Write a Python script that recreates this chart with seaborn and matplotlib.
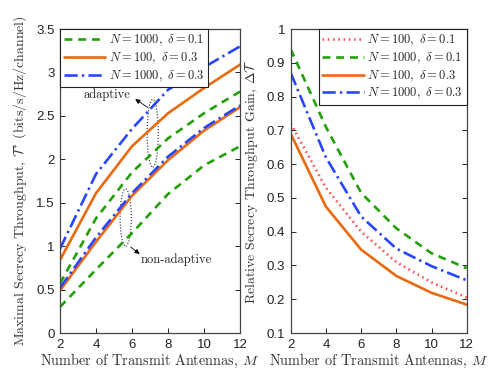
import numpy as np
import pandas as pd
import matplotlib
matplotlib.use("Agg")
import matplotlib.pyplot as plt
from matplotlib.patches import Ellipse
import seaborn as sns

# ---- data ----
M = [2, 4, 6, 8, 10, 12]

# left panel: maximal secrecy throughput
ad_n1000_d01 = [0.57, 1.32, 1.85, 2.24, 2.53, 2.78]
ad_n100_d03 = [0.84, 1.61, 2.15, 2.53, 2.82, 3.09]
ad_n1000_d03 = [0.97, 1.83, 2.35, 2.80, 3.06, 3.30]
na_n1000_d01 = [0.30, 0.73, 1.15, 1.60, 1.93, 2.15]
na_n100_d03 = [0.49, 1.05, 1.58, 1.99, 2.33, 2.60]
na_n1000_d03 = [0.52, 1.10, 1.61, 2.03, 2.36, 2.62]

# right panel: relative secrecy throughput gain
g_n100_d01 = [0.72, 0.53, 0.40, 0.31, 0.25, 0.205]
g_n1000_d01 = [0.94, 0.71, 0.515, 0.41, 0.336, 0.292]
g_n100_d03 = [0.69, 0.474, 0.347, 0.269, 0.219, 0.184]
g_n1000_d03 = [0.87, 0.62, 0.445, 0.35, 0.298, 0.256]

lbl_n100_d01 = r'$N=100,\ \delta=0.1$'
lbl_n1000_d01 = r'$N=1000,\ \delta=0.1$'
lbl_n100_d03 = r'$N=100,\ \delta=0.3$'
lbl_n1000_d03 = r'$N=1000,\ \delta=0.3$'

left_yticks = [0, 0.5, 1, 1.5, 2, 2.5, 3, 3.5]
left_yticklabels = ["0", "0.5", "1", "1.5", "2", "2.5", "3", "3.5"]
right_yticks = [0.1, 0.2, 0.3, 0.4, 0.5, 0.6, 0.7, 0.8, 0.9, 1.0]
right_yticklabels = ["0.1", "0.2", "0.3", "0.4", "0.5", "0.6", "0.7", "0.8", "0.9", "1"]
xticks = [2, 4, 6, 8, 10, 12]

# ---- style ----
sns.set_style("ticks")
plt.rcParams["font.family"] = ["Liberation Sans", "DejaVu Sans"]
plt.rcParams["mathtext.fontset"] = "cm"
plt.rcParams["axes.unicode_minus"] = False

GREEN = "#22a00a"
ORANGE = "#ea6a10"
BLUE = "#2846ff"
RED = "#ff4a4a"
LW = 1.9

fig = plt.figure(figsize=(4.98, 3.75), dpi=100)
axL = fig.add_axes([60 / 498, 42 / 375, 180 / 498, 304 / 375])
axR = fig.add_axes([290.7 / 498, 42 / 375, 176 / 498, 304 / 375])


def draw(ax, y, color, ls, label=None):
    df = pd.DataFrame({"M": M, "v": y})
    sns.lineplot(data=df, x="M", y="v", ax=ax, color=color, linestyle=ls,
                 linewidth=LW, label=label, legend=False)


dash = (0, (3.0, 2.2))
dashdot = (0, (5.0, 1.6, 0.9, 1.6))
dotted = (0, (0.6, 1.4))

# left panel
draw(axL, ad_n1000_d01, GREEN, dash, lbl_n1000_d01)
draw(axL, ad_n100_d03, ORANGE, "-", lbl_n100_d03)
draw(axL, ad_n1000_d03, BLUE, dashdot, lbl_n1000_d03)
draw(axL, na_n1000_d01, GREEN, dash)
draw(axL, na_n100_d03, ORANGE, "-")
draw(axL, na_n1000_d03, BLUE, dashdot)

# right panel
draw(axR, g_n100_d01, RED, dotted, lbl_n100_d01)
draw(axR, g_n1000_d01, GREEN, dash, lbl_n1000_d01)
draw(axR, g_n100_d03, ORANGE, "-", lbl_n100_d03)
draw(axR, g_n1000_d03, BLUE, dashdot, lbl_n1000_d03)

cmr = "cmr10"
for ax in (axL, axR):
    ax.set_xlim(2, 12)
    ax.set_xticks(xticks)
    ax.set_xticklabels([str(t) for t in xticks])
    ax.tick_params(direction="in", top=True, right=True, labelsize=9.5,
                   length=3.5, width=0.7, colors="#222222", pad=4)
    for s in ax.spines.values():
        s.set_linewidth(0.9)
        s.set_color("#444444")
    ax.set_xlabel(r"Number of Transmit Antennas, $M$", fontsize=10.3,
                  family=cmr, labelpad=1, color="#333333")

axL.set_ylim(0, 3.5)
axL.set_yticks(left_yticks)
axL.set_yticklabels(left_yticklabels)
axL.set_ylabel(r"Maximal Secrecy Throughput, $\mathcal{T}^{*}$ (bits/s/Hz/channel)",
               fontsize=10, family=cmr, labelpad=5, color="#333333")

axR.set_ylim(0.1, 1.0)
axR.set_yticks(right_yticks)
axR.set_yticklabels(right_yticklabels)
axR.set_ylabel(r"Relative Secrecy Throughput Gain, $\Delta\mathcal{T}$",
               fontsize=10, family=cmr, labelpad=5, color="#333333")

leg_kw = dict(fontsize=9, frameon=True, fancybox=False, borderaxespad=0,
              handlelength=3.3, handletextpad=0.3, labelspacing=0.2,
              borderpad=0.3, framealpha=1)
lg = axL.legend(loc="upper left", **leg_kw)
lg.get_frame().set_edgecolor("#222222")
lg.get_frame().set_linewidth(0.8)
lg = axR.legend(loc="upper right", **leg_kw)
lg.get_frame().set_edgecolor("#222222")
lg.get_frame().set_linewidth(0.8)

# annotations on left panel
axL.add_patch(Ellipse((7.15, 2.30), 0.62, 0.78, fill=False, ls=":", lw=0.8,
                      ec="#222222"))
axL.add_patch(Ellipse((5.65, 1.33), 0.62, 0.66, fill=False, ls=":", lw=0.8,
                      ec="#222222"))
axL.annotate("adaptive", xy=(6.05, 2.71), xytext=(4.6, 2.74),
             fontsize=9, family=cmr, ha="center", va="center",
             color="#222222")
axL.annotate("", xy=(6.05, 2.71), xytext=(7.0, 2.58),
             arrowprops=dict(arrowstyle="-|>", color="black", lw=0.6,
                             mutation_scale=7))
axL.annotate("non-adaptive", xy=(6.5, 0.90), xytext=(6.45, 0.84),
             fontsize=9, family=cmr, ha="left", va="center",
             color="#222222")
axL.annotate("", xy=(6.55, 0.89), xytext=(5.8, 1.01),
             arrowprops=dict(arrowstyle="-|>", color="black", lw=0.6,
                             mutation_scale=7))

fig.savefig("out.png", dpi=100)
